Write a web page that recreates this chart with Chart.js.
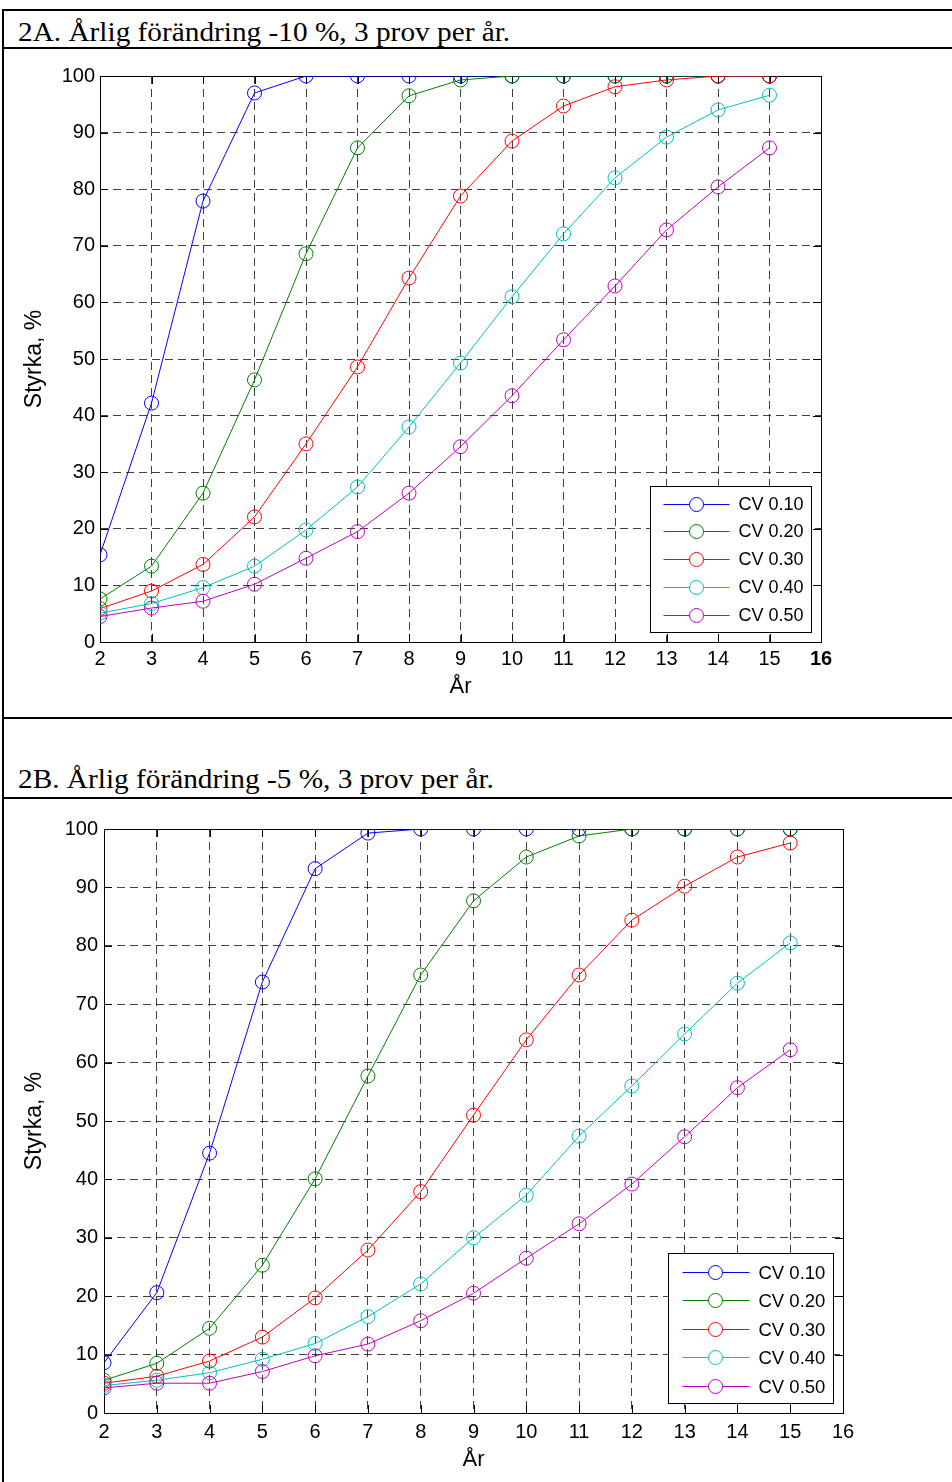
<!DOCTYPE html>
<html lang="sv">
<head>
<meta charset="utf-8">
<title>Styrka per år</title>
<script src="https://cdn.jsdelivr.net/npm/chart.js@4/dist/chart.umd.min.js"></script>
<style>
  html, body { margin: 0; padding: 0; background: #fff; }
  body { width: 952px; height: 1482px; position: relative; overflow: hidden; }
  .rule { position: absolute; left: 2px; width: 960px; height: 2px; background: #000; z-index: 2; }
  .vrule { position: absolute; left: 2px; top: 9px; width: 2px; height: 1480px; background: #000; z-index: 2; }
  .caption { position: absolute; left: 18px; font-family: "Liberation Serif", "Times New Roman", serif;
             font-size: 27px; line-height: 1; color: #000; white-space: nowrap;
             transform: scaleX(1.085); transform-origin: 0 0; }
  canvas { position: absolute; left: 0; }
</style>
</head>
<body>
<div class="rule" style="top:9px"></div>
<div class="vrule"></div>
<div class="caption" style="top:19px">2A. Årlig förändring -10 %, 3 prov per år.</div>
<div class="rule" style="top:47px"></div>
<canvas id="chartA" width="952" height="667" style="top:50px"></canvas>
<div class="rule" style="top:717px"></div>
<div class="caption" style="top:766px">2B. Årlig förändring -5 %, 3 prov per år.</div>
<div class="rule" style="top:797px"></div>
<canvas id="chartB" width="952" height="682" style="top:800px"></canvas>

<script>
// Years on the x axis (one point per year)
const years = [2, 3, 4, 5, 6, 7, 8, 9, 10, 11, 12, 13, 14, 15];
const seriesLabels = ['CV 0.10', 'CV 0.20', 'CV 0.30', 'CV 0.40', 'CV 0.50'];
const xTickValues = [2, 3, 4, 5, 6, 7, 8, 9, 10, 11, 12, 13, 14, 15, 16];
const yTickValues = [0, 10, 20, 30, 40, 50, 60, 70, 80, 90, 100];
const xAxisTitle = 'År';
const yAxisTitle = 'Styrka, %';

// 2A: annual change -10 %, power (%) per CV
const powerA_cv10 = [15.4, 42.2, 77.9, 97.0, 100, 100, 100, 100, 100, 100, 100, 100, 100, 100];
const powerA_cv20 = [7.6, 13.4, 26.3, 46.3, 68.6, 87.3, 96.5, 99.3, 100, 100, 100, 100, 100, 100];
const powerA_cv30 = [5.9, 9.0, 13.7, 22.1, 35.0, 48.6, 64.3, 78.8, 88.5, 94.7, 98.1, 99.3, 100, 100];
const powerA_cv40 = [5.1, 6.8, 9.6, 13.4, 19.8, 27.4, 38.0, 49.3, 61.0, 72.1, 82.0, 89.2, 94.0, 96.6];
const powerA_cv50 = [4.5, 6.0, 7.2, 10.2, 14.8, 19.5, 26.3, 34.5, 43.5, 53.4, 62.9, 72.8, 80.4, 87.3];

// 2B: annual change -5 %, power (%) per CV
const powerB_cv10 = [8.6, 20.6, 44.5, 73.8, 93.2, 99.3, 100, 100, 100, 100, 100, 100, 100, 100];
const powerB_cv20 = [5.6, 8.5, 14.5, 25.3, 40.1, 57.7, 75.0, 87.7, 95.2, 98.8, 100, 100, 100, 100];
const powerB_cv30 = [5.1, 6.3, 8.9, 13.0, 19.7, 27.9, 37.9, 51.0, 63.9, 75.0, 84.4, 90.2, 95.2, 97.6];
const powerB_cv40 = [4.7, 5.6, 6.9, 9.2, 11.9, 16.5, 22.1, 30.0, 37.3, 47.4, 56.0, 64.9, 73.6, 80.5];
const powerB_cv50 = [4.3, 5.1, 5.1, 7.1, 9.8, 11.8, 15.8, 20.5, 26.5, 32.4, 39.2, 47.3, 55.7, 62.2];

// MATLAB-style line colours
const seriesColors = ['#0000ff', '#008000', '#ff0000', '#00bfbf', '#bf00bf'];

const FONT = '"Liberation Sans", Arial, Helvetica, sans-serif';

// Solid box around the plot area plus short inward tick marks on all four sides
const axesFrame = {
  id: 'axesFrame',
  beforeDatasetsDraw(chart, args, opts) {
    const { ctx, chartArea: a, scales: { x, y } } = chart;
    const L = opts.tickLength;
    ctx.save();
    ctx.strokeStyle = '#000';
    ctx.lineWidth = 1;
    ctx.setLineDash([]);
    ctx.beginPath();
    x.ticks.forEach(t => {
      const px = Math.round(x.getPixelForValue(t.value)) + 0.5;
      ctx.moveTo(px, a.bottom); ctx.lineTo(px, a.bottom - L);
      ctx.moveTo(px, a.top); ctx.lineTo(px, a.top + L);
    });
    y.ticks.forEach(t => {
      const py = Math.round(y.getPixelForValue(t.value)) + 0.5;
      ctx.moveTo(a.left, py); ctx.lineTo(a.left + L, py);
      ctx.moveTo(a.right, py); ctx.lineTo(a.right - L, py);
    });
    ctx.stroke();
    ctx.strokeRect(Math.round(a.left) + 0.5, Math.round(a.top) + 0.5,
                   Math.round(a.right - a.left), Math.round(a.bottom - a.top));
    ctx.restore();
  }
};

// Boxed legend in the lower right corner: line sample, open circle, label
const boxLegend = {
  id: 'boxLegend',
  afterDraw(chart, args, o) {
    const { ctx, chartArea: a } = chart;
    const bx = Math.round(a.right - o.margin - o.width) + 0.5;
    const by = Math.round(a.bottom - o.margin - o.height) + 0.5;
    ctx.save();
    ctx.fillStyle = '#fff';
    ctx.fillRect(bx, by, o.width, o.height);
    ctx.strokeStyle = '#000';
    ctx.lineWidth = 1;
    ctx.strokeRect(bx, by, o.width, o.height);
    ctx.font = o.fontSize + 'px ' + FONT;
    ctx.textBaseline = 'middle';
    ctx.textAlign = 'left';
    chart.data.datasets.forEach((ds, i) => {
      const cy = Math.round(by + o.firstRow + i * o.rowGap) + 0.5;
      ctx.strokeStyle = ds.borderColor;
      ctx.lineWidth = 1;
      ctx.beginPath();
      ctx.moveTo(bx + o.lineStart, cy);
      ctx.lineTo(bx + o.lineEnd, cy);
      ctx.stroke();
      ctx.fillStyle = '#fff';
      ctx.beginPath();
      ctx.arc(bx + o.marker, cy, ds.pointRadius, 0, Math.PI * 2);
      ctx.fill();
      ctx.stroke();
      ctx.fillStyle = '#000';
      ctx.fillText(ds.label, bx + o.textX, cy + 1);
    });
    ctx.restore();
  }
};

function buildChart(id, series, g) {
  const datasets = series.map((vals, i) => ({
    label: seriesLabels[i],
    data: years.map((yr, k) => ({ x: yr, y: vals[k] })),
    borderColor: seriesColors[i],
    backgroundColor: 'rgba(0,0,0,0)',
    borderWidth: 1,
    pointRadius: 7,
    pointHoverRadius: 7,
    pointBorderWidth: 1,
    pointBorderColor: seriesColors[i],
    pointBackgroundColor: 'rgba(0,0,0,0)',
    tension: 0,
    fill: false,
    order: series.length - 1 - i
  }));

  const tickFont = { family: FONT, size: 20 };
  const gridStyle = { color: 'rgba(0,0,0,0.75)', lineWidth: 1, drawTicks: false };
  const borderStyle = { display: false, dash: [8, 5] };

  return new Chart(document.getElementById(id), {
    type: 'line',
    data: { datasets },
    plugins: [axesFrame, boxLegend],
    options: {
      responsive: false,
      animation: false,
      devicePixelRatio: 1,
      events: [],
      layout: { padding: { left: 0, top: g.top, right: g.right, bottom: 0 } },
      plugins: {
        legend: { display: false },
        tooltip: { enabled: false },
        axesFrame: { tickLength: 8 },
        boxLegend: g.legend
      },
      scales: {
        x: {
          type: 'linear',
          min: xTickValues[0],
          max: xTickValues[xTickValues.length - 1],
          afterBuildTicks: s => { s.ticks = xTickValues.map(v => ({ value: v })); },
          afterFit: s => { s.height = g.xAxisHeight; },
          ticks: {
            color: '#000',
            padding: g.xTickPad,
            maxRotation: 0,
            autoSkip: false,
            font: ctx => (g.boldLastX && ctx.tick && ctx.tick.value === xTickValues[xTickValues.length - 1])
              ? { family: FONT, size: 20, weight: 'bold' } : tickFont
          },
          grid: gridStyle,
          border: borderStyle,
          title: {
            display: true, text: xAxisTitle, color: '#000',
            font: { family: FONT, size: 22 },
            padding: { top: 0, bottom: g.xTitlePad }
          }
        },
        y: {
          type: 'linear',
          min: yTickValues[0],
          max: yTickValues[yTickValues.length - 1],
          afterBuildTicks: s => { s.ticks = yTickValues.map(v => ({ value: v })); },
          afterFit: s => { s.width = g.yAxisWidth; },
          ticks: { color: '#000', padding: g.yTickPad, font: tickFont },
          grid: gridStyle,
          border: borderStyle,
          title: {
            display: true, text: yAxisTitle, color: '#000',
            font: { family: FONT, size: 23 },
            padding: { top: g.yTitlePad, bottom: 0 }
          }
        }
      }
    }
  });
}

buildChart('chartA', [powerA_cv10, powerA_cv20, powerA_cv30, powerA_cv40, powerA_cv50], {
  top: 26, right: 131, xAxisHeight: 75, yAxisWidth: 100,
  xTickPad: 5, yTickPad: 5, xTitlePad: 17, yTitlePad: 21, boldLastX: true,
  legend: { margin: 10, width: 161, height: 146, firstRow: 17, rowGap: 27.75,
            lineStart: 13, lineEnd: 79, marker: 46, textX: 88, fontSize: 18 }
});

buildChart('chartB', [powerB_cv10, powerB_cv20, powerB_cv30, powerB_cv40, powerB_cv50], {
  top: 29, right: 109, xAxisHeight: 69, yAxisWidth: 104,
  xTickPad: 7, yTickPad: 6, xTitlePad: 9, yTitlePad: 21, boldLastX: false,
  legend: { margin: 10, width: 165, height: 150, firstRow: 18, rowGap: 28.5,
            lineStart: 14, lineEnd: 81, marker: 47, textX: 90, fontSize: 18.5 }
});
</script>
</body>
</html>
